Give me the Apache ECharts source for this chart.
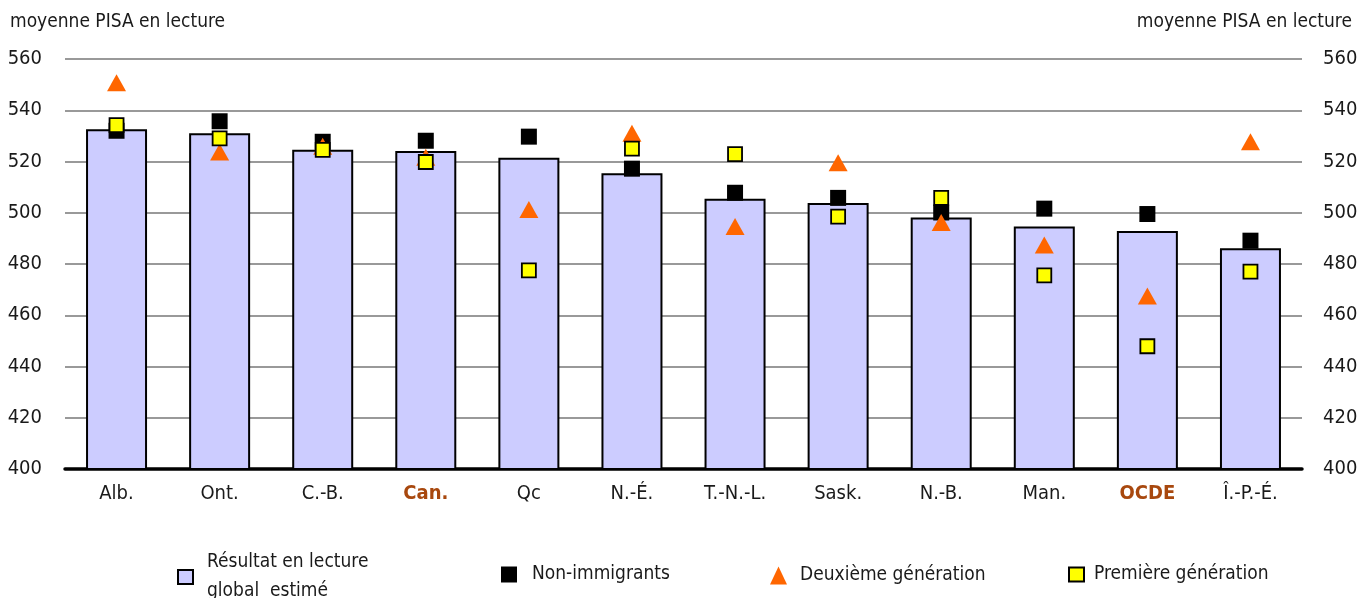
<!DOCTYPE html>
<html><head><meta charset="utf-8">
<script src="https://cdn.jsdelivr.net/npm/echarts@6/dist/echarts.min.js"></script>
<style>html,body{margin:0;padding:0;background:#fff}#c{width:1372px;height:598px}</style>
</head><body><div id="c"></div>
<script>
const categories = ['Alb.','Ont.','C.-B.','Can.','Qc','N.-É.','T.-N.-L.','Sask.','N.-B.','Man.','OCDE','Î.-P.-É.'];
const overall = [532.6,531.0,524.6,524.1,521.5,515.4,505.5,503.8,498.1,494.6,492.9,486.1];
const nonImmigrants = [532,535.7,527.7,528.1,529.7,517.2,507.8,505.8,500.1,501.6,499.5,489.1];
const secondGen = [550.7,523.7,526,521.7,501.3,531.0,494.6,519.5,496.2,487.4,467.5,527.7];
const firstGen = [534.2,529.0,524.5,519.8,477.5,525.0,522.9,498.5,505.8,475.6,447.9,477.0];
const highlighted = ['Can.','OCDE'];
const yTitle = 'moyenne PISA en lecture';
const names = ['Résultat en lecture\nglobal  estimé','Non-immigrants','Deuxième génération','Première génération'];

const FONT = '"Liberation Sans Narrow","DejaVu Sans Condensed",sans-serif';
const chart = echarts.init(document.getElementById('c'), null, {renderer:'canvas'});
const yAxisBase = {
  type:'value', min:400, max:560, interval:20,
  axisLine:{show:false}, axisTick:{show:false},
  axisLabel:{fontFamily:FONT, fontSize:20, color:'#1a1a1a'},
};
function legendText(pad){ return {fontFamily:FONT, fontSize:19, color:'#1a1a1a', lineHeight:29, padding:[0,0,0,pad]}; }
chart.setOption({
  animation:false,
  textStyle:{fontFamily:FONT},
  grid:{left:65, right:70, top:59, bottom:129, containLabel:false},
  graphic:[
    {type:'text', left:10, top:13, style:{text:yTitle, font:'19px '+FONT, fill:'#1a1a1a'}},
    {type:'text', right:20, top:13, style:{text:yTitle, font:'19px '+FONT, fill:'#1a1a1a'}}
  ],
  xAxis:{
    type:'category', data:categories,
    axisLine:{lineStyle:{color:'#000', width:3.5}},
    axisTick:{show:false},
    axisLabel:{interval:0, fontFamily:FONT, fontSize:20, color:'#1a1a1a', margin:15,
      formatter:v=> highlighted.includes(v) ? '{h|'+v+'}' : v,
      rich:{h:{fontFamily:FONT, fontSize:20, fontWeight:'bold', color:'#A8480E'}}}
  },
  yAxis:[
    Object.assign({}, yAxisBase, {position:'left', axisLabel:Object.assign({}, yAxisBase.axisLabel,{margin:23}),
      splitLine:{lineStyle:{color:'#999', width:2}}}),
    Object.assign({}, yAxisBase, {position:'right', axisLabel:Object.assign({}, yAxisBase.axisLabel,{margin:21}),
      splitLine:{show:false}})
  ],
  legend:[
    {data:[{name:names[0], icon:'rect', itemStyle:{color:'#CCCCFF', borderColor:'#000', borderWidth:2}}],
     left:177, top:548, padding:0, itemWidth:15, itemHeight:14, textStyle:legendText(9)},
    {data:[{name:names[1], icon:'rect'}], left:501, top:560, padding:0, itemWidth:16, itemHeight:16, textStyle:legendText(10)},
    {data:[{name:names[2], icon:'triangle'}], left:770, top:561, padding:0, itemWidth:17, itemHeight:18, textStyle:legendText(8)},
    {data:[{name:names[3], icon:'rect', itemStyle:{color:'#FFFF00', borderColor:'#000', borderWidth:2}}],
     left:1068, top:560, padding:0, itemWidth:15, itemHeight:14, textStyle:legendText(5)}
  ],
  series:[
    {name:names[0], type:'bar', data:overall, barWidth:61, z:1,
     itemStyle:{color:'#CCCCFF', borderColor:'#000', borderWidth:2}},
    {name:names[1], type:'scatter', data:nonImmigrants, symbol:'rect', symbolSize:16, z:3,
     itemStyle:{color:'#000', opacity:1}},
    {name:names[2], type:'scatter', data:secondGen, symbol:'triangle', symbolSize:[19,17], z:4,
     itemStyle:{color:'#FF6600', opacity:1}},
    {name:names[3], type:'scatter', data:firstGen, symbol:'rect', symbolSize:14, z:5,
     itemStyle:{color:'#FFFF00', borderColor:'#000', borderWidth:1.8, opacity:1}}
  ]
});
</script></body></html>
